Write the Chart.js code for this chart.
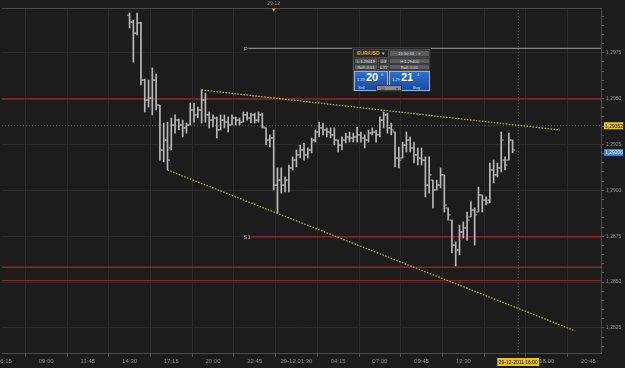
<!DOCTYPE html>
<html><head><meta charset="utf-8">
<script src="https://cdn.jsdelivr.net/npm/chart.js@4.4.1/dist/chart.umd.min.js"></script>
<style>
html,body{margin:0;padding:0;background:#1c1c1c;overflow:hidden}
#wrap{position:relative;width:625px;height:368px}
canvas{display:block}
#wd{position:absolute;left:352px;top:48px;width:79px;height:44px;background:#4a4a4a;border:1px solid #262626;font-family:"Liberation Sans",sans-serif;color:#d8d8d8;box-sizing:border-box}
#wd div,#wd span{position:absolute;white-space:nowrap;box-sizing:border-box}
.cell{background:#5c5c5c;border:1px solid #3a3a3a;font-size:4px;line-height:5px;text-align:center;height:6px}
.btn{background:linear-gradient(#2f6fd0,#1a4a9a);border:1px solid #8fb0e0;height:20px;top:22px}
.sm{font-size:4px;color:#cfe0ff}
.big{font-size:11px;font-weight:bold;color:#fff}
</style></head><body>
<div id="wrap"><canvas id="c" width="625" height="368"></canvas>
<div id="wd">
  <div style="left:1px;top:1px;width:34px;height:7px;background:#262626;"></div>
  <span style="left:4px;top:1px;font-size:5px;font-weight:bold;color:#e0b030;line-height:7px">EUR/USD</span>
  <span style="left:29px;top:1px;font-size:5px;color:#ccc;line-height:7px">▾</span>
  <div class="cell" style="left:36px;top:1px;width:41px;height:7px;line-height:6px">15:50:33&nbsp;&nbsp;&nbsp;&nbsp;×</div>
  <div class="cell" style="left:1px;top:9px;width:24px">L:1.29019</div>
  <div class="cell" style="left:26px;top:9px;width:9px">0.8</div>
  <div class="cell" style="left:36px;top:9px;width:41px">H:1.29400</div>
  <div class="cell" style="left:1px;top:15px;width:24px">Roll:-0.01</div>
  <div class="cell" style="left:26px;top:15px;width:9px">0.77</div>
  <div class="cell" style="left:36px;top:15px;width:41px">Roll:-0.01</div>
  <div class="btn" style="left:1px;width:34px"></div>
  <div class="btn" style="left:36px;width:41px"></div>
  <span class="sm" style="left:4px;top:28px">1,29</span>
  <span class="big" style="left:13px;top:22px">20</span>
  <span class="sm" style="left:28px;top:23px">6</span>
  <span class="sm" style="left:39px;top:28px">1,29</span>
  <span class="big" style="left:48px;top:22px">21</span>
  <span class="sm" style="left:64px;top:23px">4</span>
  <span class="sm" style="left:5px;top:36px">Sell</span>
  <span class="sm" style="left:60px;top:36px">Buy</span>
  <div class="cell" style="left:23px;top:36px;width:26px;text-align:left;padding-left:3px;background:#8a8a8a;color:#333">10<span style="left:19px;top:0">▾</span></div>
</div>
</div>
<script>
// ---- data (EUR/USD 15-minute bars, 28-12-2011 14:30 .. 29-12-2011 15:45) ----
const barHigh = [1.29966,1.29928,1.29966,1.29917,1.29607,1.29601,1.29667,1.29634,1.29465,1.29367,
1.29372,1.29394,1.29411,1.29389,1.29383,1.29367,1.29476,1.29476,1.29454,1.29547,
1.29530,1.29427,1.29411,1.29400,1.29411,1.29411,1.29400,1.29411,1.29400,1.29394,
1.29427,1.29427,1.29421,1.29421,1.29427,1.29421,1.29340,1.29302,1.29329,1.29122,
1.29122,1.29073,1.29138,1.29182,1.29220,1.29247,1.29258,1.29231,1.29285,1.29329,
1.29372,1.29367,1.29340,1.29340,1.29340,1.29274,1.29291,1.29312,1.29318,1.29312,
1.29345,1.29318,1.29302,1.29329,1.29340,1.29329,1.29400,1.29427,1.29421,1.29367,
1.29318,1.29236,1.29263,1.29318,1.29291,1.29263,1.29231,1.29231,1.29182,1.29182,
1.29056,1.29056,1.29122,1.29084,1.28904,1.28838,1.28719,1.28811,1.28828,1.28882,
1.28937,1.28904,1.29018,1.28975,1.28964,1.29149,1.29165,1.29149,1.29318,1.29182,
1.29312,1.29274];
const barLow = [1.29885,1.29699,1.29847,1.29574,1.29427,1.29454,1.29411,1.29438,1.29165,1.29155,
1.29111,1.29220,1.29312,1.29329,1.29291,1.29312,1.29356,1.29372,1.29394,1.29367,
1.29372,1.29340,1.29345,1.29285,1.29329,1.29340,1.29318,1.29356,1.29356,1.29356,
1.29372,1.29383,1.29367,1.29367,1.29372,1.29340,1.29247,1.29236,1.29002,1.28877,
1.28985,1.28991,1.28991,1.29111,1.29127,1.29176,1.29165,1.29176,1.29204,1.29263,
1.29291,1.29302,1.29291,1.29285,1.29247,1.29209,1.29220,1.29258,1.29263,1.29263,
1.29263,1.29263,1.29231,1.29263,1.29302,1.29263,1.29291,1.29340,1.29312,1.29302,
1.29127,1.29122,1.29176,1.29209,1.29209,1.29149,1.29138,1.29138,1.28964,1.28985,
1.28904,1.29002,1.29013,1.28882,1.28838,1.28659,1.28588,1.28648,1.28740,1.28729,
1.28855,1.28702,1.28882,1.28882,1.28920,1.28931,1.29040,1.29073,1.29100,1.29111,
1.29165,1.29204];
const barOpen = [1.29955,1.29917,1.29857,1.29912,1.29601,1.29492,1.29503,1.29601,1.29465,1.29220,
1.29274,1.29231,1.29356,1.29383,1.29356,1.29340,1.29356,1.29438,1.29411,1.29438,
1.29492,1.29411,1.29383,1.29394,1.29329,1.29383,1.29372,1.29356,1.29394,1.29383,
1.29372,1.29411,1.29394,1.29411,1.29383,1.29411,1.29340,1.29274,1.29285,1.29029,
1.29056,1.29029,1.29056,1.29122,1.29165,1.29193,1.29220,1.29193,1.29220,1.29274,
1.29318,1.29340,1.29329,1.29318,1.29302,1.29274,1.29247,1.29274,1.29291,1.29285,
1.29291,1.29302,1.29285,1.29274,1.29312,1.29318,1.29302,1.29383,1.29411,1.29340,
1.29318,1.29176,1.29176,1.29247,1.29274,1.29231,1.29193,1.29176,1.29165,1.29029,
1.29056,1.29002,1.29029,1.29084,1.28904,1.28838,1.28702,1.28675,1.28773,1.28795,
1.28855,1.28893,1.28882,1.28975,1.28947,1.28947,1.29111,1.29084,1.29122,1.29165,
1.29165,1.29274];
const barClose = [1.29917,1.29857,1.29912,1.29601,1.29492,1.29503,1.29601,1.29465,1.29220,1.29274,
1.29165,1.29356,1.29383,1.29356,1.29340,1.29356,1.29438,1.29411,1.29438,1.29492,
1.29411,1.29383,1.29394,1.29329,1.29383,1.29372,1.29356,1.29394,1.29383,1.29372,
1.29411,1.29394,1.29411,1.29383,1.29411,1.29345,1.29274,1.29285,1.29029,1.29056,
1.29029,1.29056,1.29122,1.29165,1.29193,1.29220,1.29193,1.29220,1.29274,1.29318,
1.29340,1.29329,1.29318,1.29302,1.29274,1.29247,1.29274,1.29291,1.29285,1.29291,
1.29302,1.29285,1.29274,1.29312,1.29318,1.29302,1.29383,1.29411,1.29340,1.29329,
1.29176,1.29165,1.29247,1.29274,1.29231,1.29193,1.29176,1.29165,1.29029,1.29084,
1.29002,1.29029,1.29084,1.28920,1.28866,1.28702,1.28675,1.28773,1.28795,1.28838,
1.28893,1.28866,1.28975,1.28947,1.28931,1.29111,1.29084,1.29122,1.29274,1.29138,
1.29274,1.29220];

// time axis ticks (bar index 0 = 28-12 14:30, one bar = 15 min)
const xTickIdx = [-33,-22,-11,0,11,22,33,44,55,66,77,88,99,110,121];
const xTickLabels = ['06:15','09:00','11:45','14:30','17:15','20:00','22:45','29-12 01:30','04:15','07:00','09:45','12:30','15:15','18:00','20:45'];
const yTickValues = [1.2825,1.2850,1.2875,1.2900,1.2925,1.2950,1.2975];
const yTickLabels = ['1,2825','1,2850','1,2875','1,2900','1,2925','1,2950','1,2975'];

// pivot / support levels
const levelNames = ['P','','S1','',''];
const levelValues = [1.29774,1.29498,1.28747,1.28581,1.28508];
const levelStartIdx = [31.3,null,32.1,null,null];

// trend lines
const trendStartIdx = [19,10];
const trendStartPrice = [1.29547,1.29111];
const trendEndIdx = [113.5,117.5];
const trendEndPrice = [1.29329,1.28234];

// crosshair / markers
const crossIdx = 102.5;
const crossPrice = 1.29352;
const crossPriceLabel = '1,29352';
const crossTimeLabel = '29-12-2011 16:00';
const bidPrice = 1.29206;
const bidLabel = '1,29206';
const dayMarkIdx = 38;
const dayMarkLabel = '29-12';

// ---- chart ----
const X_MIN = -33.64, X_MAX = 124.31;
const Y_MAX = 1.299936, Y_MIN = 1.281137;
const BAR_COL = '#b9b9b9';

const datasets = [];
datasets.push({
  type:'bar', label:'hl', order:1,
  data: barHigh.map((h,i)=>({x:i, y:[barLow[i], h]})),
  backgroundColor: BAR_COL, borderWidth:0, barThickness:1, grouped:false
});
datasets.push({
  type:'scatter', label:'open', order:0,
  data: barOpen.map((o,i)=>({x:i-0.4, y:o})),
  pointStyle:'line', pointRadius:1, borderColor:BAR_COL, borderWidth:1, pointHoverRadius:1
});
datasets.push({
  type:'scatter', label:'close', order:0,
  data: barClose.map((c,i)=>({x:i+0.4, y:c})),
  pointStyle:'line', pointRadius:1, borderColor:BAR_COL, borderWidth:1, pointHoverRadius:1
});
levelValues.forEach((v,k)=>{
  const s = levelStartIdx[k]===null ? X_MIN : levelStartIdx[k];
  datasets.push({
    type:'line', label:'lvl'+k, order:5,
    data:[{x:s,y:v},{x:X_MAX,y:v}],
    borderColor: levelNames[k]==='P' ? '#a0a0a0' : '#8a2525',
    borderWidth: levelNames[k]==='P' ? 1 : 1.4,
    pointRadius:0, fill:false, tension:0
  });
});
trendStartIdx.forEach((s,k)=>{
  datasets.push({
    type:'line', label:'trend'+k, order:4,
    data:[{x:s,y:trendStartPrice[k]},{x:trendEndIdx[k],y:trendEndPrice[k]}],
    borderColor:'#bdbb4c', borderWidth:1.2, borderDash:[1.5,1.5],
    pointRadius:0, fill:false, tension:0
  });
});
datasets.push({
  type:'line', label:'crossH', order:6,
  data:[{x:X_MIN,y:crossPrice},{x:X_MAX,y:crossPrice}],
  borderColor:'#5c5c5c', borderWidth:1, borderDash:[1,2], pointRadius:0
});
datasets.push({
  type:'line', label:'crossV', order:6,
  data:[{x:crossIdx,y:Y_MIN},{x:crossIdx,y:Y_MAX}],
  borderColor:'#5c5c5c', borderWidth:1, borderDash:[1,2], pointRadius:0
});

const yAll = [];
for (let v = 1.2815; v <= 1.2996; v += 0.0005) yAll.push(Math.round(v*10000)/10000);
const isMajorY = v => yTickValues.some(t=>Math.abs(t-v)<1e-7);

const overlay = {
  id:'overlay',
  beforeDraw(chart){
    const c = chart.ctx; c.save(); c.fillStyle='#1c1c1c'; c.fillRect(0,0,chart.width,chart.height); c.restore();
  },
  afterDraw(chart){
    const {ctx, chartArea:a, scales:{x,y}} = chart;
    ctx.save();
    ctx.strokeStyle='#484848'; ctx.lineWidth=1;
    ctx.beginPath(); ctx.moveTo(a.left, a.top+0.5); ctx.lineTo(a.right, a.top+0.5); ctx.stroke();
    // day marker
    const dx = x.getPixelForValue(dayMarkIdx);
    ctx.font='5px "Liberation Sans"'; ctx.textBaseline='middle'; ctx.textAlign='center';
    ctx.fillStyle='#8a8a8a'; ctx.fillText(dayMarkLabel, dx, 4);
    ctx.fillStyle='#d8a81e';
    ctx.beginPath(); ctx.moveTo(dx-2, a.top+0.5); ctx.lineTo(dx+2, a.top+0.5); ctx.lineTo(dx, a.top+3.5); ctx.closePath(); ctx.fill();
    // level labels
    ctx.font='6px "Liberation Sans"'; ctx.textAlign='right';
    levelNames.forEach((n,k)=>{
      if(!n) return;
      const px = x.getPixelForValue(levelStartIdx[k]);
      const py = y.getPixelForValue(levelValues[k]);
      ctx.fillStyle='#a8a8a8'; ctx.fillText(n, px-0.5, py+1);
    });
    // crosshair price label
    ctx.font='5px "Liberation Sans"'; ctx.textAlign='left';
    const cy = y.getPixelForValue(crossPrice);
    ctx.fillStyle='#e9c21c'; ctx.fillRect(a.right+3, cy-3.5, 19, 7);
    ctx.fillStyle='#111'; ctx.fillText(crossPriceLabel, a.right+4, cy+0.5);
    // bid label
    const by = y.getPixelForValue(bidPrice);
    ctx.fillStyle='#3f7fd8'; ctx.fillRect(a.right+3, by-3.5, 19, 7);
    ctx.fillStyle='#eaf2ff'; ctx.fillText(bidLabel, a.right+4, by+0.5);
    // crosshair time label
    const cx = x.getPixelForValue(crossIdx);
    ctx.textAlign='center';
    ctx.fillStyle='#e9c21c'; ctx.fillRect(cx-21, a.bottom+5, 42, 8);
    ctx.fillStyle='#111'; ctx.fillText(crossTimeLabel, cx, a.bottom+9.5);
    ctx.restore();
  }
};

new Chart(document.getElementById('c'), {
  type:'bar',
  data:{datasets},
  options:{
    responsive:false, animation:false, devicePixelRatio:1,
    layout:{padding:{top:8,left:0,right:0,bottom:0}},
    plugins:{legend:{display:false}, tooltip:{enabled:false}},
    events:[],
    scales:{
      x:{
        type:'linear', position:'bottom', min:X_MIN, max:X_MAX, offset:false,
        grid:{color:'#2a2a2a', lineWidth:1, tickLength:4, tickColor:'#555', drawOnChartArea:true},
        border:{color:'#4a4a4a'},
        ticks:{color:'#8c8c8c', font:{family:'Liberation Sans', size:6}, padding:1, maxRotation:0, autoSkip:false,
          callback:(v)=>{ const k = xTickIdx.indexOf(v); return k>=0 ? xTickLabels[k] : ''; }},
        afterBuildTicks:s=>{ s.ticks = xTickIdx.map(v=>({value:v})); },
        afterFit:s=>{ s.height = 15; s.paddingLeft = 0; s.paddingRight = 0; }
      },
      y:{
        type:'linear', position:'right', min:Y_MIN, max:Y_MAX,
        grid:{color:c=> (c.tick && isMajorY(c.tick.value)) ? '#2a2a2a' : 'rgba(0,0,0,0)', tickLength:3, tickColor:'#555'},
        border:{color:'#4a4a4a'},
        ticks:{color:'#8c8c8c', font:{family:'Liberation Sans', size:5}, padding:2, autoSkip:false,
          callback:(v)=>{ const k = yTickValues.findIndex(t=>Math.abs(t-v)<1e-7); return k>=0 ? yTickLabels[k] : ''; }},
        afterBuildTicks:s=>{ s.ticks = yAll.map(v=>({value:v})); },
        afterFit:s=>{ s.width = 24; s.paddingTop = 0; s.paddingBottom = 0; }
      }
    }
  },
  plugins:[overlay]
});
</script>
</body></html>
